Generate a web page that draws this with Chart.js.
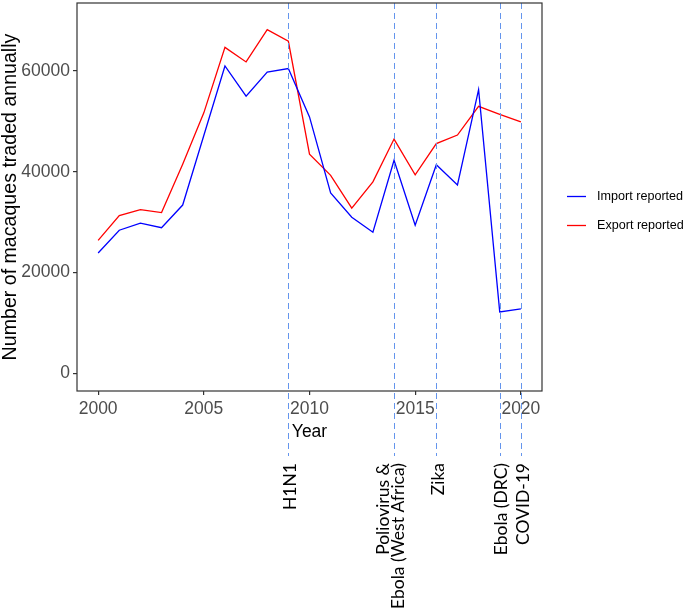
<!DOCTYPE html>
<html><head><meta charset="utf-8">
<script src="https://cdn.jsdelivr.net/npm/chart.js"></script>
<style>html,body{margin:0;padding:0;background:#fff;}#wrap{width:689px;height:614px;position:relative;}</style>
</head><body><div id="wrap"><canvas id="c" width="689" height="614"></canvas></div>
<script>
const years = [2000,2001,2002,2003,2004,2005,2006,2007,2008,2009,2010,2011,2012,2013,2014,2015,2016,2017,2018,2019,2020];
const importReported = [23900,28400,29800,28900,33400,47200,61000,55000,59800,60500,50900,35800,31000,28000,42300,29400,41400,37400,56300,12200,12800];
const exportReported = [26400,31300,32500,31900,41500,51700,64700,61800,68200,65900,43500,39300,32800,38000,46500,39400,45600,47300,53000,51400,49900];
const xTicks = [2000,2005,2010,2015,2020];
const yTicks = [0,20000,40000,60000];
const eventYears = [2009,2014,2016,2019,2020];
const eventLabels = [["H1N1"],["Poliovirus &","Ebola (West Africa)"],["Zika"],["Ebola (DRC)"],["COVID-19"]];
const seriesNames = ["Import reported","Export reported"];
const seriesColors = ["#0000ff","#ff0000"];

const AX = "'Liberation Sans', Arial, sans-serif";

const overlay = {
  id: 'overlay',
  afterDatasetsDraw(chart) {
    const ctx = chart.ctx, xs = chart.scales.x, ca = chart.chartArea;
    ctx.save();
    ctx.strokeStyle = '#6495ed';
    ctx.lineWidth = 1;
    ctx.setLineDash([6, 4]);
    eventYears.forEach(yr => {
      const px = Math.round(xs.getPixelForValue(yr)) + 0.5;
      ctx.beginPath();
      ctx.moveTo(px, ca.top);
      ctx.lineTo(px, 456);
      ctx.stroke();
    });
    ctx.restore();
  },
  afterDraw(chart) {
    const ctx = chart.ctx, xs = chart.scales.x, ca = chart.chartArea;
    ctx.save();
    ctx.strokeStyle = '#333333';
    ctx.lineWidth = 1.2;
    ctx.strokeRect(ca.left, ca.top, ca.right - ca.left, ca.bottom - ca.top);
    ctx.fillStyle = '#000';
    ctx.font = "17.5px Lato, sans-serif";
    ctx.textAlign = 'right';
    ctx.textBaseline = 'middle';
    eventYears.forEach((yr, i) => {
      const lines = eventLabels[i];
      const n = lines.length;
      const px = xs.getPixelForValue(yr);
      const lh = 15;
      const center = px + 2 - 5 * (n - 1);
      lines.forEach((t, j) => {
        const cx = center + (j - (n - 1) / 2) * lh;
        ctx.save();
        ctx.translate(cx, 463);
        ctx.rotate(-Math.PI / 2);
        ctx.fillText(t, 0, 0);
        ctx.restore();
      });
    });
    ctx.font = "12.6px " + AX;
    ctx.textAlign = 'left';
    ctx.textBaseline = 'middle';
    chart.data.datasets.forEach((ds, i) => {
      const y = 196 + 29 * i;
      ctx.strokeStyle = ds.borderColor;
      ctx.lineWidth = 1.3;
      ctx.beginPath();
      ctx.moveTo(567, y + 0.5);
      ctx.lineTo(586, y + 0.5);
      ctx.stroke();
      ctx.fillStyle = '#000';
      ctx.fillText(ds.label, 597, y + 1);
    });
    ctx.restore();
  }
};

new Chart(document.getElementById('c'), {
  type: 'line',
  data: {
    datasets: seriesNames.map((name, k) => ({
      label: name,
      data: years.map((yr, i) => ({ x: yr, y: (k === 0 ? importReported : exportReported)[i] })),
      borderColor: seriesColors[k],
      borderWidth: 1.3,
      pointRadius: 0,
      tension: 0,
      fill: false
    }))
  },
  options: {
    responsive: false,
    animation: false,
    devicePixelRatio: 1,
    layout: { padding: { left: 0, top: 3, right: 147, bottom: 0 } },
    plugins: { legend: { display: false }, tooltip: { enabled: false } },
    scales: {
      x: {
        type: 'linear', min: 1999, max: 2021,
        afterBuildTicks: s => { s.ticks = xTicks.map(v => ({ value: v })); },
        afterFit: s => { s.height = 223; s.paddingLeft = 0; s.paddingRight = 0; s.paddingTop = 0; s.paddingBottom = 0; },
        grid: { display: true, drawOnChartArea: false, drawTicks: true, tickLength: 4, color: '#333333', lineWidth: 1.2 },
        border: { display: false },
        ticks: { font: { family: AX, size: 17.5 }, color: '#4d4d4d', padding: 4, maxRotation: 0, autoSkip: false, callback: v => String(v) },
        title: { display: true, text: 'Year', color: '#000', font: { family: AX, size: 17.5, lineHeight: 1 }, padding: { top: 0, bottom: 173 } }
      },
      y: {
        type: 'linear', min: -3500, max: 73500,
        afterBuildTicks: s => { s.ticks = yTicks.map(v => ({ value: v })); },
        afterFit: s => { s.width = 77; s.paddingTop = 0; s.paddingBottom = 0; s.paddingLeft = 0; s.paddingRight = 0; },
        grid: { display: true, drawOnChartArea: false, drawTicks: true, tickLength: 4, color: '#333333', lineWidth: 1.2 },
        border: { display: false },
        ticks: { font: { family: AX, size: 17.5 }, color: '#4d4d4d', padding: 3, autoSkip: false, callback: v => String(v) },
        title: { display: true, text: 'Number of macaques traded annually', color: '#000', font: { family: AX, size: 19.6, lineHeight: 1 }, padding: { top: 0.5, bottom: 0 } }
      }
    }
  },
  plugins: [overlay]
});
</script></body></html>
